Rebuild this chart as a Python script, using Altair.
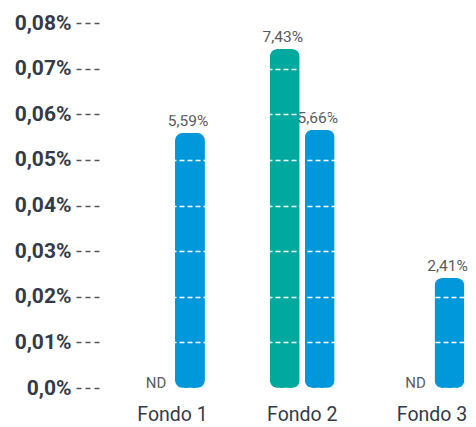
import altair as alt
import pandas as pd

fondos = ["Fondo 1", "Fondo 1", "Fondo 2", "Fondo 2", "Fondo 3", "Fondo 3"]
series = ["A", "B", "A", "B", "A", "B"]
values = [None, 0.0559, 0.0743, 0.0566, None, 0.0241]
labels = ["ND", "5,59%", "7,43%", "5,66%", "ND", "2,41%"]
y_ticks = [0, 0.01, 0.02, 0.03, 0.04, 0.05, 0.06, 0.07, 0.08]

df = pd.DataFrame({"fondo": fondos, "serie": series, "valor": values, "etiqueta": labels})
df["ypos"] = df["valor"].fillna(0)

FONT = "Roboto"

x_enc = alt.X("fondo:N", title=None,
              scale=alt.Scale(paddingInner=0.5, paddingOuter=0.172, align=0.92),
              axis=alt.Axis(ticks=False, domain=False, labelAngle=0, labelFont=FONT,
                            labelFontSize=19.5, labelColor="#333b47", labelPadding=32,
                            labelBaseline="alphabetic"))
xo_enc = alt.XOffset("serie:N", scale=alt.Scale(paddingInner=0.143, paddingOuter=0))

y_scale = alt.Scale(domain=[0, 0.08], nice=False)

bars = alt.Chart(df).transform_filter("datum.valor != null").mark_bar(
    cornerRadius=8
).encode(
    x=x_enc,
    xOffset=xo_enc,
    y=alt.Y("valor:Q", title=None, scale=y_scale,
            axis=alt.Axis(values=y_ticks, domain=False, zindex=1,
                          labelExpr="datum.value == 0 ? '0,0%' : replace(format(datum.value, '.2f'), '.', ',') + '%'",
                          labelFont=FONT, labelFontSize=21, labelFontWeight="bold",
                          labelColor="#333b47", labelPadding=5,
                          tickSize=23, tickDash=[5, 4], tickColor="#555555", tickWidth=1.3,
                          grid=True, gridColor="white", gridDash=[5, 3], gridWidth=1.5)),
    color=alt.Color("serie:N", legend=None,
                    scale=alt.Scale(domain=["A", "B"], range=["#00a99d", "#0098da"])),
)

vals = alt.Chart(df).transform_filter("datum.valor != null").mark_text(
    font=FONT, fontSize=15.5, color="#5a5a5a", baseline="alphabetic", dy=-7, dx=-2
).encode(x=x_enc, xOffset=xo_enc, y=alt.Y("ypos:Q", scale=y_scale), text="etiqueta:N")

nd = alt.Chart(df).transform_filter("datum.valor == null").mark_text(
    font=FONT, fontSize=15, color="#5a5a5a", baseline="alphabetic", dy=0, dx=1
).encode(x=x_enc, xOffset=xo_enc, y=alt.Y("ypos:Q", scale=y_scale), text="etiqueta:N")

chart = alt.layer(bars, vals, nd).properties(
    width=369, height=365,
    padding={"left": 91, "top": 15, "right": 0, "bottom": 39},
    autosize=alt.AutoSizeParams(type="none"),
).configure_view(stroke=None)

chart.save("out.html", embed_options={"renderer": "svg", "actions": False})
